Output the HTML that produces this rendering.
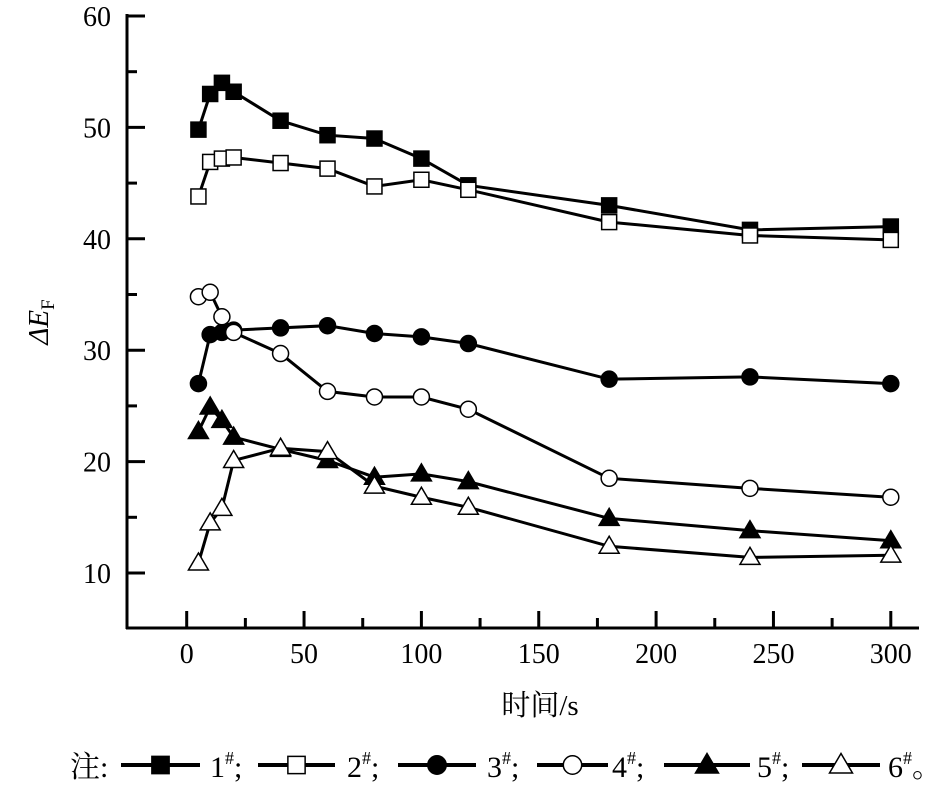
<!DOCTYPE html>
<html><head><meta charset="utf-8"><style>
html,body{margin:0;padding:0;background:#fff;width:950px;height:791px;overflow:hidden}
svg text{font-family:"Liberation Serif","Noto Serif CJK SC",serif;fill:#000}
</style></head><body>
<svg id="s" width="950" height="791" xmlns="http://www.w3.org/2000/svg">
<g stroke="#000" stroke-width="3" fill="none">
<line x1="127" y1="14" x2="127" y2="629"/>
<line x1="126" y1="628" x2="919" y2="628"/>
</g>
<g id="ticks" stroke="#000" stroke-width="3"></g>
<g id="lbl" font-size="28"></g>
<text x="540" y="715" font-size="29" text-anchor="middle" font-family="'Noto Serif CJK SC','Liberation Serif',serif">时间/s</text>
<text transform="translate(48,322) rotate(-90)" font-size="29" text-anchor="middle"><tspan font-style="italic">ΔE</tspan><tspan font-size="19" dy="6">F</tspan></text>
<g id="data"></g>
<g id="leg"></g>
</svg>
<script>
const NS="http://www.w3.org/2000/svg";
function el(p,t,a,txt){const e=document.createElementNS(NS,t);for(const k in a)e.setAttribute(k,a[k]);if(txt!=null)e.textContent=txt;p.appendChild(e);return e;}
const X=v=>186.7+v*2.347, Y=v=>573-(v-10)*11.14;
const tk=document.getElementById('ticks'),lb=document.getElementById('lbl');
for(let v=0;v<=300;v+=25){const x=X(v);el(tk,'line',{x1:x,x2:x,y1:628,y2:v%50?618:611});if(v%50==0)el(lb,'text',{x:x,y:663,'text-anchor':'middle'},v);}
for(let v=10;v<=60;v+=5){const y=Y(v);el(tk,'line',{x1:127,x2:v%10?137:145,y1:y,y2:y});if(v%10==0)el(lb,'text',{x:111,y:y+10,'text-anchor':'end'},v);}
const t=[5,10,15,20,40,60,80,100,120,180,240,300];
const D=[
[49.8,53.0,54.0,53.2,50.6,49.3,49.0,47.2,44.8,43.0,40.8,41.1],
[43.8,46.9,47.2,47.3,46.8,46.3,44.7,45.3,44.4,41.5,40.3,39.9],
[27.0,31.4,31.6,31.8,32.0,32.2,31.5,31.2,30.6,27.4,27.6,27.0],
[34.8,35.2,33.0,31.6,29.7,26.3,25.8,25.8,24.7,18.5,17.6,16.8],
[22.7,24.9,23.7,22.2,21.1,20.1,18.6,18.9,18.2,14.9,13.8,12.9],
[10.9,14.5,15.8,20.1,21.2,20.9,17.8,16.8,15.9,12.4,11.4,11.6]];
function mark(g,k,x,y,s){s=s||1;const f=(k%2==0)?'#000':'#fff';
 if(k<2)el(g,'rect',{x:x-7.5*s,y:y-7.5*s,width:15*s,height:15*s,fill:f,stroke:'#000','stroke-width':1.5});
 else if(k<4)el(g,'circle',{cx:x,cy:y,r:8*s,fill:f,stroke:'#000','stroke-width':1.5});
 else el(g,'polygon',{points:`${x},${y-10*s} ${x-10*s},${y+7*s} ${x+10*s},${y+7*s}`,fill:f,stroke:'#000','stroke-width':1.5});}
const dg=document.getElementById('data');
D.forEach((s,k)=>{const g=el(dg,'g',{});el(g,'polyline',{points:s.map((v,i)=>X(t[i])+','+Y(v)).join(' '),fill:'none',stroke:'#000','stroke-width':3});s.forEach((v,i)=>mark(g,k,X(t[i]),Y(v)));});
const lg=document.getElementById('leg');
el(lg,'text',{x:70,y:777,'font-size':30,'font-family':"'Noto Serif CJK SC',serif"},'注:');
const L=[[121,200],[258,335],[398,476],[537,608],[664,750],[802,880]],TX=[210,347,487,612,757,888];
L.forEach((p,k)=>{el(lg,'line',{x1:p[0],x2:p[1],y1:765,y2:765,stroke:'#000','stroke-width':4});mark(lg,k,(p[0]+p[1])/2,765,1.15);
 const tx=el(lg,'text',{x:TX[k],y:777,'font-size':30});tx.innerHTML=(k+1)+'<tspan font-size="18" dy="-13">#</tspan><tspan dy="13">'+(k<5?';':'。')+'</tspan>';});
</script>
</body></html>
